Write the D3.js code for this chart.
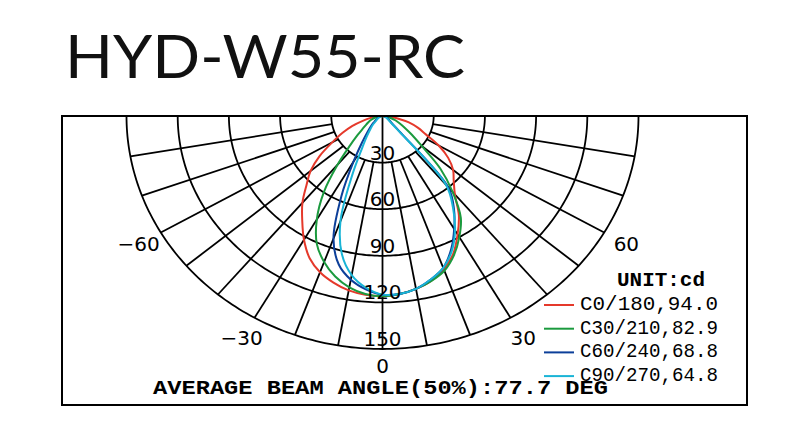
<!DOCTYPE html>
<html><head><meta charset="utf-8">
<script src="https://cdn.jsdelivr.net/npm/d3@7"></script>
<style>body{margin:0;background:#fff}svg{display:block}</style>
</head><body><svg id="chart" width="800" height="438"></svg>
<script>
// ---------------- data ----------------
const title = "HYD-W55-RC";
const gammaAngles = [-90,-85,-80,-75,-70,-65,-60,-55,-50,-45,-40,-35,-30,-25,-20,-15,-10,-5,0,5,10,15,20,25,30,35,40,45,50,55,60,65,70,75,80,85,90];
const c0_180  = [0,3,7,12,19,26,34,45,55,63,73,82,92,101,107,111,114,115.5,116,115,113,110,105,98,88,78,66,59,54,47,38,28,22,16,9,4,0];
const c30_210 = [0,1,3,5,7,9,11,14,19,27,41,60,77,91,100,107,112,115,116,115,113,110,106,99,90,80,64,48,30,21,15,11,8,5,3,1,0];
const c60_240 = [0,0.5,1,1.5,2,3,4,5,7,10,14,21,34,57,84,99,107,112,115,115,113,109,104,95,84,73,60,14,7,5,4,3,2,1.5,1,0.5,0];
const c90_270 = [0,0.5,1,1.5,2,2.5,3,4,5,8,11,16,24,42,72,92,104,111,115,115,113,109,104,96,85,72,58,12,6,4,3,2.5,2,1.5,1,0.5,0];
const seriesNames = ["C0/180,94.0","C30/210,82.9","C60/240,68.8","C90/270,64.8"];
const ringValues = [30,60,90,120,150];
const spokeAngles = [-80,-70,-60,-50,-40,-30,-20,-10,0,10,20,30,40,50,60,70,80];
const angleTicks = [-60,-30,0,30,60];
const unitLabel = "UNIT:cd";
const beamText = "AVERAGE BEAM ANGLE(50%):77.7 DEG";

// ---------------- drawing ----------------
const seriesValues = [c0_180, c30_210, c60_240, c90_270];
const colors = ["#e5392b", "#1b9a3e", "#0c3f99", "#19b4d6"];
const svg = d3.select("#chart");
const cx = 382.5, cy = 116, maxV = 150;
const rx = d3.scaleLinear().domain([0, maxV]).range([0, 256]);
const ry = d3.scaleLinear().domain([0, maxV]).range([0, 233]);
const rad = d => d * Math.PI / 180;
const pt = (a, v) => [cx + Math.sin(rad(a)) * rx(v), cy + Math.cos(rad(a)) * ry(v)];

// title
svg.append("text").attr("x", 65).attr("y", 78)
  .attr("font-family", "Lato, 'Open Sans', sans-serif").attr("font-size", 60).attr("font-weight", 400)
  .attr("textLength", 400).attr("lengthAdjust", "spacingAndGlyphs")
  .attr("fill", "#111").text(title);

const grid = svg.append("g").attr("stroke", "#000").attr("stroke-width", 1.8).attr("fill", "none");
const ringLine = d3.line();
ringValues.forEach(v => {
  grid.append("path").attr("d", ringLine(d3.range(-90, 90.5, 1).map(a => pt(a, v))));
});
spokeAngles.forEach(a => {
  const p0 = pt(a, a === 0 ? 0 : ringValues[0]);
  const p1 = pt(a, maxV);
  grid.append("line").attr("x1", p0[0]).attr("y1", p0[1]).attr("x2", p1[0]).attr("y2", p1[1]);
});

// curves
const curve = d3.line().curve(d3.curveCatmullRom.alpha(0.5));
seriesValues.forEach((vals, i) => {
  svg.append("path")
    .attr("d", curve(gammaAngles.map((a, j) => pt(a, vals[j]))))
    .attr("fill", "none").attr("stroke", colors[i]).attr("stroke-width", 2);
});

// frame
svg.append("rect").attr("x", 62).attr("y", 116).attr("width", 685).attr("height", 289)
  .attr("fill", "none").attr("stroke", "#000").attr("stroke-width", 2);

// ring labels
const lab = svg.append("g").attr("font-family", "'DejaVu Sans', sans-serif").attr("font-size", 20)
  .attr("fill", "#000").attr("text-anchor", "middle");
ringValues.forEach(v => {
  lab.append("text").attr("x", cx).attr("y", cy + ry(v) - 3).text(v);
});
angleTicks.forEach(a => {
  const p = pt(a, maxV * 1.1);
  lab.append("text").attr("x", p[0]).attr("y", p[1]).attr("dy", a === 0 ? "0.05em" : "0.36em")
    .text(a < 0 ? "\u2212" + Math.abs(a) : String(a));
});

// legend
const mono = "'Liberation Mono', 'DejaVu Sans Mono', monospace";
svg.append("text").attr("x", 617).attr("y", 286).attr("font-family", mono)
  .attr("font-weight", "bold").attr("font-size", 21).attr("textLength", 88)
  .attr("lengthAdjust", "spacingAndGlyphs").text(unitLabel);
seriesNames.forEach((n, i) => {
  const by = 310 + i * 23.7;
  svg.append("line").attr("x1", 544).attr("x2", 574).attr("y1", by - 5).attr("y2", by - 5)
    .attr("stroke", colors[i]).attr("stroke-width", 2);
  svg.append("text").attr("x", 580).attr("y", by).attr("font-family", mono)
    .attr("font-size", 21).attr("textLength", 138).attr("lengthAdjust", "spacingAndGlyphs").text(n);
});

// beam angle text
svg.append("text").attr("x", 153).attr("y", 394).attr("font-family", mono)
  .attr("font-weight", "bold").attr("font-size", 20).attr("textLength", 455)
  .attr("lengthAdjust", "spacingAndGlyphs").text(beamText);
</script></body></html>
